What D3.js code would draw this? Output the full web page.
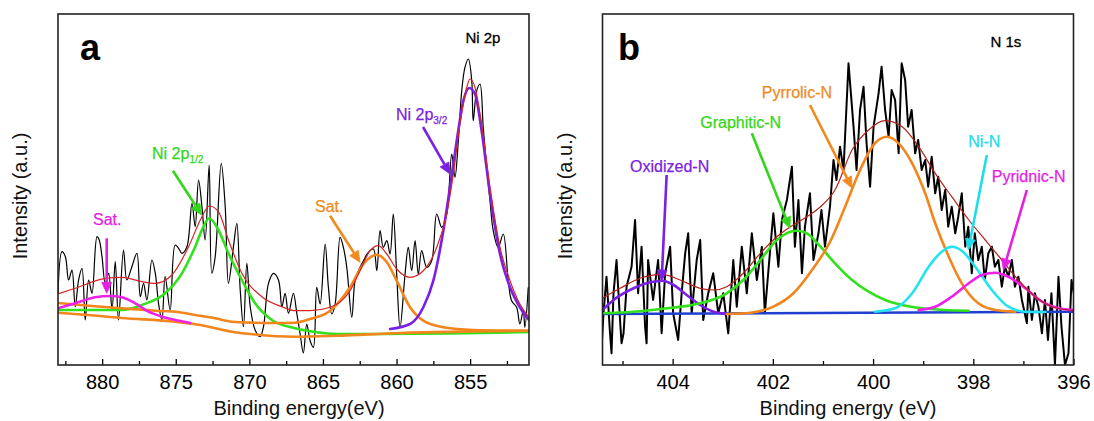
<!DOCTYPE html>
<html><head><meta charset="utf-8">
<script src="https://cdn.jsdelivr.net/npm/d3@7"></script>
<style>
html,body{margin:0;padding:0;background:#fff;}
svg text{font-family:"Liberation Sans",Arial,Helvetica,sans-serif;}
</style></head>
<body>
<svg id="chart" width="1094" height="421"></svg>
<script>
// ---------------- DATA (binding energy eV, intensity a.u.) ----------------
// Panel a : Ni 2p
const niTicksMajor = [880, 875, 870, 865, 860, 855];
const niTicksMinor = [882.5, 877.5, 872.5, 867.5, 862.5, 857.5, 852.5];
const niRaw = [[883.0,71.7],[882.73,113.3],[882.5,108.3],[882.28,85],[882.05,95],[881.83,58.3],[881.6,85],[881.37,96.7],[881.15,45],[880.92,85],[880.69,71.7],[880.35,128.3],[880.2,125],[880.01,108.3],[879.79,81.7],[879.56,91.7],[879.33,55],[879.11,103.3],[878.89,45],[878.55,115],[878.32,85],[877.98,98.3],[877.64,111.7],[877.41,68.3],[877.19,81.7],[876.96,65],[876.62,105],[876.39,91.7],[876.17,61.7],[875.94,45],[875.72,88.3],[875.38,55],[875.04,120],[874.81,116.7],[874.58,111.7],[874.24,118.3],[873.9,161.7],[873.68,138.3],[873.45,185],[873.22,158.3],[873.0,125],[872.73,200],[872.55,91.7],[872.32,108.3],[871.91,201.7],[871.64,158.3],[871.42,81.7],[871.08,118.3],[870.85,141.7],[870.62,75],[870.4,38.3],[870.17,101.7],[869.94,58.3],[869.61,35],[869.27,28.3],[869.04,38.3],[868.7,81.7],[868.36,91.7],[868.02,85],[867.79,58.3],[867.57,71.7],[867.34,51.7],[867.01,71.7],[866.77,51],[866.55,31],[866.33,12],[866.1,41],[865.87,24.3],[865.65,17.7],[865.42,77.7],[865.19,61],[864.85,121],[864.63,77.7],[864.4,51],[864.17,61],[863.83,127.7],[863.61,117.7],[863.38,97.7],[863.04,47.7],[862.82,84.3],[862.59,94.3],[862.25,104.3],[861.91,112.7],[861.57,116],[861.34,94.3],[861.12,134.3],[860.9,117.7],[860.66,124.3],[860.44,111],[860.22,151],[859.99,91],[859.76,37.7],[859.42,91],[859.2,117.7],[858.97,94.3],[858.74,124.3],[858.52,91],[858.29,114.3],[857.95,97.7],[857.61,104.3],[857.27,151],[856.93,137.7],[856.59,151],[856.25,211],[856.03,187.7],[855.8,224.3],[855.57,274.3],[855.35,297.7],[855.12,306],[854.89,284.3],[854.79,244.3],[854.55,274.3],[854.33,281],[854.11,237.7],[853.88,197.7],[853.65,164.3],[853.43,134.3],[853.09,117.7],[852.75,131],[852.41,84.3],[852.18,64.3],[851.84,57.7],[851.62,41],[851.39,54.3],[851.28,37.7],[851.05,77.7]];
const niEnvelope = [[883.0,71],[881.83,76.7],[879.79,86.7],[878.66,87.7],[877.3,83.3],[876.39,81.7],[875.26,90],[874.13,118.3],[873.22,148.3],[872.73,159],[872.1,153.3],[871.42,125],[870.51,91.7],[869.15,68.3],[867.79,58.3],[866.89,54.3],[865.87,54.3],[864.51,57.7],[863.16,74.3],[862.48,94.3],[861.8,114.3],[861.23,119.3],[860.66,111],[859.99,96],[859.08,87.7],[858.18,94.3],[857.27,117.7],[856.59,151],[856.14,191],[855.69,241],[855.23,277.7],[855.01,286],[854.67,277.7],[854.22,241],[853.65,177.7],[852.97,117.7],[852.29,84.3],[851.62,61],[851.0,47.7]];
const ni2p12 = [[883.0,55],[878.63,55],[877.3,60],[875.72,71.7],[874.58,91.7],[873.68,118.3],[873.12,138.3],[872.73,146.7],[872.1,135],[871.42,111.7],[870.51,85],[869.61,61.7],[868.47,45],[866.89,36.7],[865.53,33],[864.06,31],[861.12,31],[856.37,31.5],[851.0,33]];
const ni2p32 = [[860.44,36],[859.08,41],[858.18,57.7],[857.5,84.3],[856.82,134.3],[856.37,177.7],[855.91,224.3],[855.46,264.3],[855.06,277],[854.67,271],[854.22,234.3],[853.65,171],[852.97,111],[852.29,77.7],[851.62,57.7],[851.0,45]];
const niSatHigh = [[883.0,62],[880.92,59.3],[878.66,56.7],[876.39,54.3],[875.04,53.3],[873.68,50],[872.32,46.7],[871.19,43.3],[869.61,42.3],[868.25,42],[866.89,42.3],[865.87,46],[864.51,54.3],[863.16,77.7],[862.25,101],[861.34,110.3],[860.66,102.7],[859.99,84.3],[859.08,57.7],[858.18,44.3],[856.82,37.7],[854.79,35],[851.0,34.3]];
const niBackground = [[883.0,52.3],[880.94,50],[878.66,47],[875.04,43.3],[873.34,40],[871.19,33.3],[869.61,30.5],[866.89,28.3],[864.06,29.3],[859.76,32],[855.01,33.5],[851.0,34.3]];
const niSatLow = [[883.0,56.7],[881.83,61.7],[880.47,67.7],[879.45,69],[878.66,67.7],[877.75,61.7],[876.85,53.3],[875.94,48.3],[875.04,45],[874.02,42]];

// Panel b : N 1s
const nTicksMajor = [404, 402, 400, 398, 396];
const nTicksMinor = [405, 403, 401, 399, 397];
const nRaw = [[405.45,65],[405.42,15],[405.38,51.7],[405.32,88.3],[405.25,31.7],[405.22,11.7],[405.18,71.7],[405.12,105],[405.05,45],[405.02,21.7],[404.98,31.7],[404.92,78.3],[404.82,98.3],[404.75,145],[404.69,71.7],[404.62,118.3],[404.55,38.3],[404.52,21.7],[404.49,105],[404.39,65],[404.29,105],[404.22,31.7],[404.15,91.7],[404.05,118.3],[403.99,51.7],[403.89,25],[403.82,71.7],[403.75,111.7],[403.69,131.7],[403.62,51.7],[403.52,105],[403.45,125],[403.39,45],[403.29,71.7],[403.19,91.7],[403.09,51.7],[402.99,71.7],[402.89,31.7],[402.79,105],[402.72,58.3],[402.62,118.3],[402.52,71.7],[402.42,131.7],[402.32,85],[402.22,118.3],[402.16,51.7],[402.06,111.7],[401.99,151.7],[401.89,98.3],[401.82,145],[401.72,165],[401.62,198.3],[401.56,118.3],[401.49,165],[401.42,91.7],[401.36,138.3],[401.26,171.7],[401.19,105],[401.09,131.7],[401.03,155],[400.96,118.3],[400.86,158.3],[400.79,205],[400.73,185],[400.66,218.3],[400.59,195],[400.49,301.7],[400.39,238.3],[400.33,195],[400.26,255],[400.19,278.3],[400.13,221.7],[400.06,178.3],[399.99,238.3],[399.89,271.7],[399.83,298.3],[399.76,255],[399.69,228.3],[399.63,275],[399.56,265],[399.49,211.7],[399.43,301.7],[399.36,285],[399.3,238.3],[399.23,255],[399.16,211.7],[399.1,225],[399.03,195],[398.96,205],[398.9,178.3],[398.83,208.3],[398.76,171.7],[398.7,188.3],[398.63,155],[398.56,175],[398.5,138.3],[398.43,158.3],[398.36,131.7],[398.3,148.3],[398.23,171.7],[398.16,118.3],[398.1,138.3],[398.03,91.7],[397.97,131.7],[397.9,105],[397.83,118.3],[397.77,85],[397.7,111.7],[397.63,118.3],[397.57,98.3],[397.5,105],[397.43,78.3],[397.37,98.3],[397.3,88.3],[397.23,105],[397.17,78.3],[397.1,88.3],[397.03,65],[396.93,41.7],[396.9,78.3],[396.83,45],[396.77,71.7],[396.7,58.3],[396.63,31.7],[396.57,65],[396.51,25],[396.44,71.7],[396.37,0],[396.3,88.3],[396.24,38.3],[396.17,0],[396.1,11.7],[396.04,85],[395.97,65]];
const nEnvelope = [[405.4,66.7],[405.05,76.7],[404.65,86.7],[404.21,90.7],[403.85,85],[403.45,76.7],[403.18,75],[402.92,78.3],[402.59,91.7],[402.25,111.7],[401.92,128.3],[401.65,138.3],[401.32,148.3],[401.05,158.3],[400.76,175],[400.42,215],[400.09,235],[399.76,244.3],[399.42,238.3],[399.09,218.3],[398.76,191.7],[398.43,168.3],[398.09,145],[397.76,125],[397.43,105],[397.1,85],[396.76,68.3],[396.43,58.3],[396.1,55],[396.0,54.3]];
const nOxidized = [[405.4,55],[405.18,65],[404.78,76.7],[404.45,82.7],[404.21,84.3],[403.98,80],[403.72,70],[403.45,60],[403.18,53.3],[402.92,51]];
const nGraphitic = [[405.4,51.7],[404.78,53.3],[404.11,56.7],[403.45,61.7],[402.92,71.7],[402.59,85],[402.25,105],[401.92,125],[401.65,133.3],[401.52,134.3],[401.32,131.7],[401.05,118.3],[400.76,101.7],[400.42,85],[400.09,73.3],[399.76,65],[399.42,60],[399.02,56.7],[398.56,55],[398.09,54.3]];
const nPyrrolic = [[402.92,51],[402.45,52.3],[401.99,58.3],[401.59,71.7],[401.19,97],[400.86,123],[400.56,158],[400.26,195],[399.96,222],[399.72,228.3],[399.49,221.7],[399.22,201.7],[398.96,171.7],[398.76,141.7],[398.49,108.3],[398.23,81.7],[397.9,61.7],[397.56,55],[397.16,53.3]];
const nNiN = [[399.96,53.3],[399.56,56.7],[399.22,71.7],[398.89,98.3],[398.63,113.3],[398.43,118.3],[398.23,114.3],[397.96,98.3],[397.63,75],[397.3,58.3],[396.96,53.3],[396.56,53]];
const nPyridinic = [[399.09,55],[398.76,58.3],[398.43,68.3],[398.09,81.7],[397.83,90],[397.56,92.3],[397.3,88.3],[396.96,76.7],[396.63,63.3],[396.3,56.7],[396.0,55]];
const nBaseline = [[405.4,51],[396.0,53.3]];

// Annotations (label anchor and arrow tail -> tip, in data units)
const niLabels = [
  {text:"Ni 2p", sub:"3/2", color:"#7b22e0", at:[860.04,245], from:[858.2,238], to:[856.37,191]},
  {text:"Ni 2p", sub:"1/2", color:"#33d61a", at:[876.61,206.5], from:[875.19,194.3], to:[873.24,150]},
  {text:"Sat.", sub:"", color:"#e51fe0", at:[880.62,140], from:[879.69,126.7], to:[879.69,71.7]},
  {text:"Sat.", sub:"", color:"#f08a1e", at:[865.54,153], from:[864.52,149.3], to:[862.48,102.7]}
];
const nLabels = [
  {text:"Oxidized-N", color:"#7b22e0", at:[404.85,193.5], from:[404.12,190], to:[404.22,84]},
  {text:"Graphitic-N", color:"#33d61a", at:[403.45,237], from:[402.42,231.7], to:[401.66,136.7]},
  {text:"Pyrrolic-N", color:"#f08a1e", at:[402.22,267.5], from:[401.26,260], to:[400.42,177]},
  {text:"Ni-N", color:"#20dcea", at:[398.10,218], from:[397.73,210], to:[398.10,115]},
  {text:"Pyridnic-N", color:"#e51fe0", at:[397.63,183.5], from:[396.93,175], to:[397.40,95]}
];

// ---------------- DRAWING ----------------
const svg = d3.select("#chart");
svg.append("rect").attr("width",1094).attr("height",421).attr("fill","#fff");

const y = d3.scaleLinear().domain([0, 351]).range([365, 14]);
const xA = d3.scaleLinear().domain([883, 851]).range([58, 529]);
const xB = d3.scaleLinear().domain([405.4, 396]).range([602.5, 1073.5]);

function panel(id, x, opts) {
  const g = svg.append("g");
  const [x0, x1] = x.range();
  svg.append("clipPath").attr("id", "clip" + id)
    .append("rect").attr("x", x0).attr("y", 14).attr("width", x1 - x0).attr("height", 351);
  const plot = g.append("g").attr("clip-path", `url(#clip${id})`);
  const line = (curve) => d3.line().x(d => x(d[0])).y(d => y(d[1])).curve(curve);

  // raw spectrum
  plot.append("path").datum(opts.raw).attr("d", line(opts.rawCurve))
    .attr("fill","none").attr("stroke","#000").attr("stroke-width", opts.rawWidth)
    .attr("stroke-linejoin","round");
  // fitted components
  opts.fits.forEach(f => {
    plot.append("path").datum(f.data).attr("d", line(d3.curveMonotoneX))
      .attr("fill","none").attr("stroke", f.color).attr("stroke-width", f.w)
      .attr("stroke-linejoin","round").attr("stroke-linecap","round");
  });

  // axis
  const axis = d3.axisBottom(x).tickValues(opts.major).tickSize(-6).tickPadding(10)
    .tickFormat(d3.format("d"));
  const ax = g.append("g").attr("transform","translate(0,365)").call(axis);
  ax.select(".domain").remove();
  ax.selectAll("line").attr("stroke","#000").attr("stroke-width",1.3);
  ax.selectAll("text").attr("font-size",20).attr("fill","#000")
    .attr("font-family","'Liberation Sans',Arial,sans-serif");
  const axm = g.append("g").attr("transform","translate(0,365)")
    .call(d3.axisBottom(x).tickValues(opts.minor).tickSize(-4).tickFormat(""));
  axm.select(".domain").remove();
  axm.selectAll("line").attr("stroke","#000").attr("stroke-width",1.3);

  // frame
  g.append("rect").attr("x", x0).attr("y", 14).attr("width", x1 - x0).attr("height", 351)
    .attr("fill","none").attr("stroke","#222").attr("stroke-width",1.6);

  // titles
  g.append("text").attr("x", opts.titleX).attr("y", 415).attr("text-anchor","middle")
    .attr("font-size",20).attr("fill","#111").text(opts.xTitle);
  g.append("text").attr("transform", `translate(${x0 - 31},196) rotate(-90)`)
    .attr("text-anchor","middle").attr("font-size",20).attr("fill","#111").text("Intensity (a.u.)");

  // panel letter & core-level name
  g.append("text").attr("x", x(opts.letterAt[0])).attr("y", y(opts.letterAt[1]))
    .attr("font-size",36).attr("font-weight","bold").attr("fill","#000").text(opts.letter);
  g.append("text").attr("x", x(opts.nameAt[0])).attr("y", y(opts.nameAt[1]))
    .attr("text-anchor","middle").attr("font-size",15).attr("fill","#000")
    .attr("stroke","#000").attr("stroke-width",0.3).text(opts.name);

  // annotations
  opts.labels.forEach(l => {
    const t = g.append("text").attr("x", x(l.at[0])).attr("y", y(l.at[1]))
      .attr("font-size",16).attr("fill", l.color)
      .attr("stroke", l.color).attr("stroke-width",0.25).text(l.text);
    if (l.sub) t.append("tspan").attr("font-size",10).attr("dy",4).text(l.sub);
    const fx = x(l.from[0]), fy = y(l.from[1]), tx = x(l.to[0]), ty = y(l.to[1]);
    const ang = Math.atan2(ty - fy, tx - fx), L = 11, W = 5;
    const bx = tx - L * Math.cos(ang), by = ty - L * Math.sin(ang);
    g.append("line").attr("x1", fx).attr("y1", fy).attr("x2", bx).attr("y2", by)
      .attr("stroke", l.color).attr("stroke-width", 2.6);
    const px = -Math.sin(ang), py = Math.cos(ang);
    g.append("path").attr("d", `M${tx},${ty}L${bx + W*px},${by + W*py}L${bx - W*px},${by - W*py}Z`)
      .attr("fill", l.color).attr("stroke", l.color).attr("stroke-width",0.8).attr("stroke-linejoin","round");
  });
}

panel("A", xA, {
  raw: niRaw, rawCurve: d3.curveCatmullRom.alpha(0.5), rawWidth: 1.2,
  fits: [
    {data: ni2p12, color:"#33e01c", w:2.6},
    {data: niBackground, color:"#f2861c", w:2.6},
    {data: niSatHigh, color:"#f2861c", w:2.6},
    {data: niSatLow, color:"#ee22e6", w:2.6},
    {data: ni2p32, color:"#7a1fe6", w:2.6},
    {data: niEnvelope, color:"#d42424", w:1.2}
  ],
  major: niTicksMajor, minor: niTicksMinor,
  titleX: 299, xTitle: "Binding energy(eV)",
  letter: "a", letterAt: [881.5, 305],
  name: "Ni 2p", nameAt: [854.13, 322],
  labels: niLabels
});

panel("B", xB, {
  raw: nRaw, rawCurve: d3.curveLinear, rawWidth: 2.0,
  fits: [
    {data: nBaseline, color:"#1f3fd0", w:2.6},
    {data: nOxidized, color:"#7a1fe6", w:2.6},
    {data: nGraphitic, color:"#33e01c", w:2.6},
    {data: nPyrrolic, color:"#f2861c", w:2.6},
    {data: nNiN, color:"#22e4f0", w:2.6},
    {data: nPyridinic, color:"#ee22e6", w:2.6},
    {data: nEnvelope, color:"#b8201c", w:1.2}
  ],
  major: nTicksMajor, minor: nTicksMinor,
  titleX: 848, xTitle: "Binding energy (eV)",
  letter: "b", letterAt: [405.09, 305],
  name: "N 1s", nameAt: [397.35, 318],
  labels: nLabels
});
</script>
</body></html>
